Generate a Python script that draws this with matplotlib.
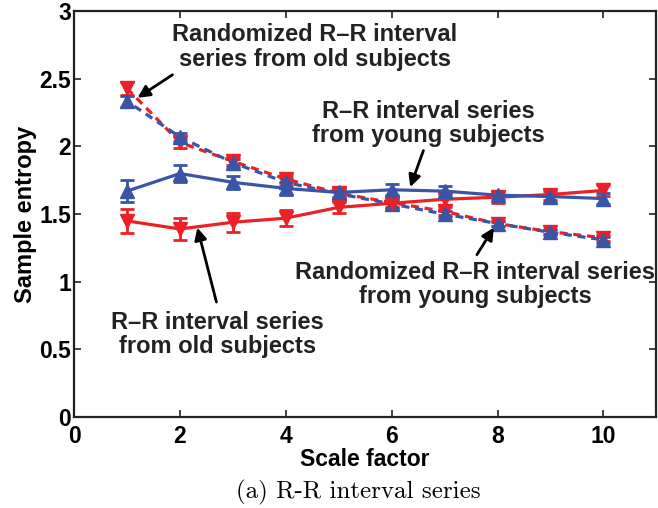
import matplotlib
matplotlib.use("Agg")
import matplotlib.pyplot as plt
import numpy as np

plt.rcParams["font.family"] = ["Liberation Sans", "DejaVu Sans"]
plt.rcParams["font.weight"] = "bold"

# Scale factors and sample entropy values (mean, error)
scales = np.arange(1, 11)
old_rr = [1.45, 1.39, 1.44, 1.47, 1.55, 1.58, 1.61, 1.625, 1.645, 1.675]
old_rr_err = [0.09, 0.08, 0.07, 0.06, 0.04, 0.04, 0.04, 0.04, 0.04, 0.04]
young_rr = [1.67, 1.80, 1.735, 1.69, 1.66, 1.68, 1.67, 1.64, 1.63, 1.615]
young_rr_err = [0.08, 0.06, 0.05, 0.05, 0.04, 0.04, 0.04, 0.03, 0.04, 0.04]
old_rand = [2.43, 2.03, 1.89, 1.76, 1.655, 1.585, 1.52, 1.43, 1.37, 1.325]
old_rand_err = [0.05, 0.04, 0.03, 0.03, 0.03, 0.03, 0.03, 0.02, 0.02, 0.02]
young_rand = [2.335, 2.07, 1.88, 1.735, 1.65, 1.575, 1.50, 1.43, 1.365, 1.31]
young_rand_err = [0.04, 0.03, 0.03, 0.03, 0.03, 0.03, 0.02, 0.02, 0.02, 0.02]

RED = "#ec2027"
BLUE = "#3a55a5"

fig = plt.figure(figsize=(6.58, 5.08), dpi=100)
ax = fig.add_axes([0.1125, 0.179, 0.885, 0.799])

common = dict(lw=2.3, ms=10.5, elinewidth=2.0, capsize=5, capthick=2.0)
ax.errorbar(scales, old_rand, yerr=old_rand_err, color=RED, marker="v",
            ls=(0, (2.5, 1.8)), **common)
ax.errorbar(scales, young_rand, yerr=young_rand_err, color=BLUE, marker="^",
            ls=(1.5, (2.5, 1.8)), **common)
ax.errorbar(scales, old_rr, yerr=old_rr_err, color=RED, marker="v", ls="-", **common)
ax.errorbar(scales, young_rr, yerr=young_rr_err, color=BLUE, marker="^", ls="-", **common)

ax.set_xlim(0, 11)
ax.set_ylim(0, 3)
ax.set_xticks([0, 2, 4, 6, 8, 10])
ax.set_yticks([0, 0.5, 1, 1.5, 2, 2.5, 3])
ax.set_yticklabels(["0", "0.5", "1", "1.5", "2", "2.5", "3"])
ax.tick_params(direction="in", top=True, right=True, length=5, width=1.2,
               labelsize=16.5, color="#222222")
ax.tick_params(axis="x", pad=6)
ax.tick_params(axis="y", pad=2)
for s in ax.spines.values():
    s.set_linewidth(1.6)
    s.set_color("#222222")
for lab in ax.get_xticklabels() + ax.get_yticklabels():
    lab.set_fontweight("bold")

ax.set_xlabel("Scale factor", fontsize=16.5, fontweight="bold", labelpad=0)
ax.set_ylabel("Sample entropy", fontsize=17, fontweight="bold", labelpad=2)

txt = dict(fontsize=17, fontweight="bold", ha="center", va="center",
           linespacing=1.1, color="#222222")
arrow = dict(arrowstyle="-|>", color="black", lw=2.0, mutation_scale=18,
             shrinkA=0, shrinkB=0)

ax.text(4.55, 2.735, "Randomized R\u2013R interval\nseries from old subjects", **txt)
ax.annotate("", xy=(1.20, 2.36), xytext=(1.86, 2.53), arrowprops=arrow)

ax.text(6.69, 2.17, "R\u2013R interval series\nfrom young subjects", **txt)
ax.annotate("", xy=(6.35, 1.70), xytext=(6.60, 1.97), arrowprops=arrow)

ax.text(7.58, 0.98, "Randomized R\u2013R interval series\nfrom young subjects", **txt)
ax.annotate("", xy=(7.93, 1.40), xytext=(7.61, 1.20), arrowprops=arrow)

ax.text(2.71, 0.61, "R\u2013R interval series\nfrom old subjects", **txt)
ax.annotate("", xy=(2.33, 1.40), xytext=(2.69, 0.85), arrowprops=arrow)

fig.text(0.545, 0.030, "(a) R-R interval series", fontsize=18,
         fontfamily="cmr10", fontweight="normal", ha="center", va="center")

fig.savefig("out.png", dpi=100)
